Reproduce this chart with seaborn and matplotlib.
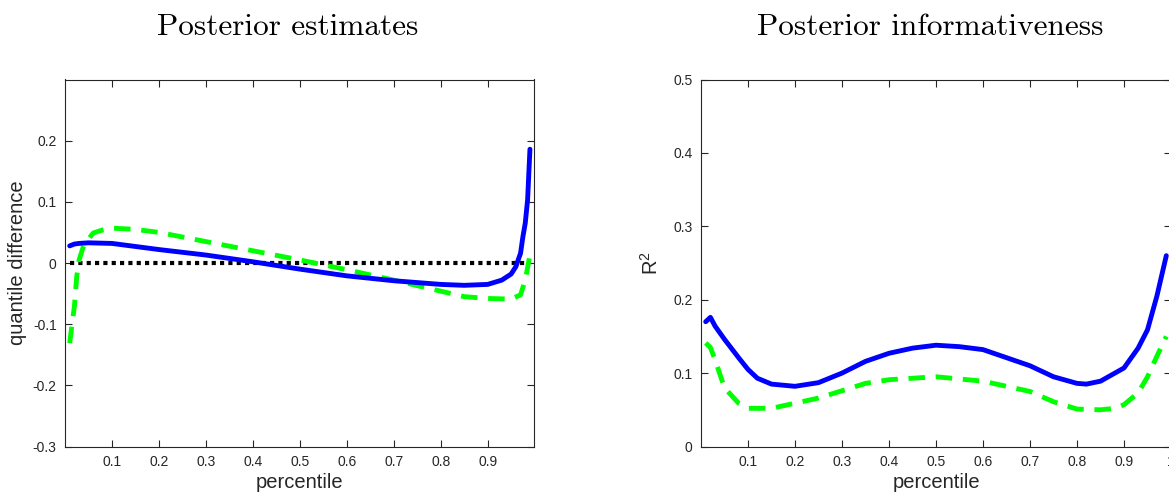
import numpy as np
import pandas as pd
import matplotlib
matplotlib.use("Agg")
import matplotlib.pyplot as plt
import seaborn as sns

# left panel: quantile difference by percentile
est_pct_solid = [0.01, 0.02, 0.03, 0.05, 0.1, 0.2, 0.3, 0.4, 0.5, 0.6, 0.7, 0.8, 0.85,
                 0.9, 0.93, 0.95, 0.96, 0.97, 0.975, 0.98, 0.985, 0.99]
est_solid = [0.028, 0.031, 0.032, 0.033, 0.032, 0.022, 0.013, 0.002, -0.010, -0.021, -0.029,
             -0.035, -0.0365, -0.035, -0.028, -0.018, -0.006, 0.016, 0.043, 0.065, 0.103, 0.186]
est_pct_dash = [0.01, 0.015, 0.02, 0.025, 0.03, 0.04, 0.06, 0.08, 0.1, 0.15, 0.2, 0.3, 0.4,
                0.5, 0.6, 0.7, 0.8, 0.85, 0.9, 0.95, 0.97, 0.98, 0.99]
est_dash = [-0.131, -0.10, -0.071, -0.022, 0.005, 0.029, 0.049, 0.054, 0.057, 0.055, 0.050,
            0.035, 0.020, 0.005, -0.011, -0.028, -0.046, -0.055, -0.058, -0.059, -0.052,
            -0.028, 0.013]
est_pct_zero = [0.01, 0.99]
est_zero = [0.0, 0.0]

# right panel: R^2 by percentile
inf_pct_solid = [0.01, 0.02, 0.03, 0.05, 0.08, 0.1, 0.12, 0.15, 0.2, 0.25, 0.3, 0.35, 0.4,
                 0.45, 0.5, 0.55, 0.6, 0.65, 0.7, 0.75, 0.8, 0.82, 0.85, 0.9, 0.93, 0.95,
                 0.97, 0.99]
inf_solid = [0.170, 0.176, 0.164, 0.146, 0.121, 0.105, 0.093, 0.085, 0.082, 0.087, 0.100,
             0.116, 0.127, 0.134, 0.138, 0.136, 0.132, 0.121, 0.110, 0.095, 0.086, 0.085,
             0.089, 0.107, 0.134, 0.159, 0.205, 0.260]
inf_pct_dash = [0.01, 0.02, 0.03, 0.05, 0.08, 0.1, 0.15, 0.2, 0.25, 0.3, 0.35, 0.4, 0.5,
                0.6, 0.7, 0.75, 0.8, 0.85, 0.88, 0.9, 0.93, 0.95, 0.97, 0.99]
inf_dash = [0.141, 0.135, 0.118, 0.080, 0.059, 0.052, 0.052, 0.059, 0.066, 0.076, 0.086,
            0.091, 0.095, 0.089, 0.075, 0.061, 0.051, 0.050, 0.052, 0.057, 0.073, 0.095,
            0.123, 0.150]

left_yticks = [-0.3, -0.2, -0.1, 0, 0.1, 0.2]
left_ylabels = ["-0.3", "-0.2", "-0.1", "0", "0.1", "0.2"]
right_yticks = [0, 0.1, 0.2, 0.3, 0.4, 0.5]
right_ylabels = ["0", "0.1", "0.2", "0.3", "0.4", "0.5"]
left_xticks = [0.1, 0.2, 0.3, 0.4, 0.5, 0.6, 0.7, 0.8, 0.9]
right_xticks = [0.1, 0.2, 0.3, 0.4, 0.5, 0.6, 0.7, 0.8, 0.9, 1.0]
right_xlabels = ["0.1", "0.2", "0.3", "0.4", "0.5", "0.6", "0.7", "0.8", "0.9", "1"]

sns.set_theme(style="ticks")
plt.rcParams["font.family"] = ["Liberation Sans", "DejaVu Sans"]
plt.rcParams["axes.unicode_minus"] = False
plt.rcParams["mathtext.default"] = "regular"

dark = "#262626"
blue = "#0000ff"
green = "#00ff00"
dash = (0, (3.4, 2.2))

fig = plt.figure(figsize=(11.69, 4.98), dpi=100)
ax1 = fig.add_axes([65 / 1169, 1 - 446.5 / 498, 468.7 / 1169, 367 / 498])
ax2 = fig.add_axes([701 / 1169, 1 - 446.5 / 498, 470 / 1169, 367 / 498])

sns.lineplot(x=est_pct_zero, y=est_zero, ax=ax1, color="black", lw=3.0,
             linestyle=(0, (1, 1)), sort=False, estimator=None)
sns.lineplot(x=est_pct_dash, y=est_dash, ax=ax1, color=green, lw=3.5,
             linestyle=dash, sort=False, estimator=None)
sns.lineplot(x=est_pct_solid, y=est_solid, ax=ax1, color=blue, lw=3.5,
             sort=False, estimator=None)

sns.lineplot(x=inf_pct_dash, y=inf_dash, ax=ax2, color=green, lw=3.5,
             linestyle=dash, sort=False, estimator=None)
sns.lineplot(x=inf_pct_solid, y=inf_solid, ax=ax2, color=blue, lw=3.5,
             sort=False, estimator=None)

ax1.set_xlim(0, 0.998)
ax1.set_ylim(-0.3, 0.3)
ax1.set_xticks(left_xticks)
ax1.set_xticklabels([str(t) for t in left_xticks])
ax1.set_yticks(left_yticks)
ax1.set_yticklabels(left_ylabels)
ax1.set_ylabel("quantile difference", fontsize=14.5, color=dark, labelpad=4)

ax2.set_xlim(0, 1)
ax2.set_ylim(0, 0.5)
ax2.set_xticks(right_xticks)
ax2.set_xticklabels(right_xlabels)
ax2.set_yticks(right_yticks)
ax2.set_yticklabels(right_ylabels)
ax2.set_ylabel("R$^{2}$", fontsize=14.5, color=dark, labelpad=8)

for ax in (ax1, ax2):
    ax.set_xlabel("percentile", fontsize=14.5, color=dark, labelpad=3)
    ax.tick_params(direction="in", top=True, right=True, length=5, width=0.8,
                   colors=dark, labelsize=10, pad=6)
    for sp in ax.spines.values():
        sp.set_color(dark)
        sp.set_linewidth(0.8)
    ax.grid(False)

fig.text(288 / 1169, 1 - 35 / 498, "Posterior estimates", fontfamily="cmr10",
         fontsize=22.5, ha="center", va="baseline", color="black")
fig.text(930 / 1169, 1 - 35 / 498, "Posterior informativeness", fontfamily="cmr10",
         fontsize=22.5, ha="center", va="baseline", color="black")

fig.savefig("out.png", dpi=100)
